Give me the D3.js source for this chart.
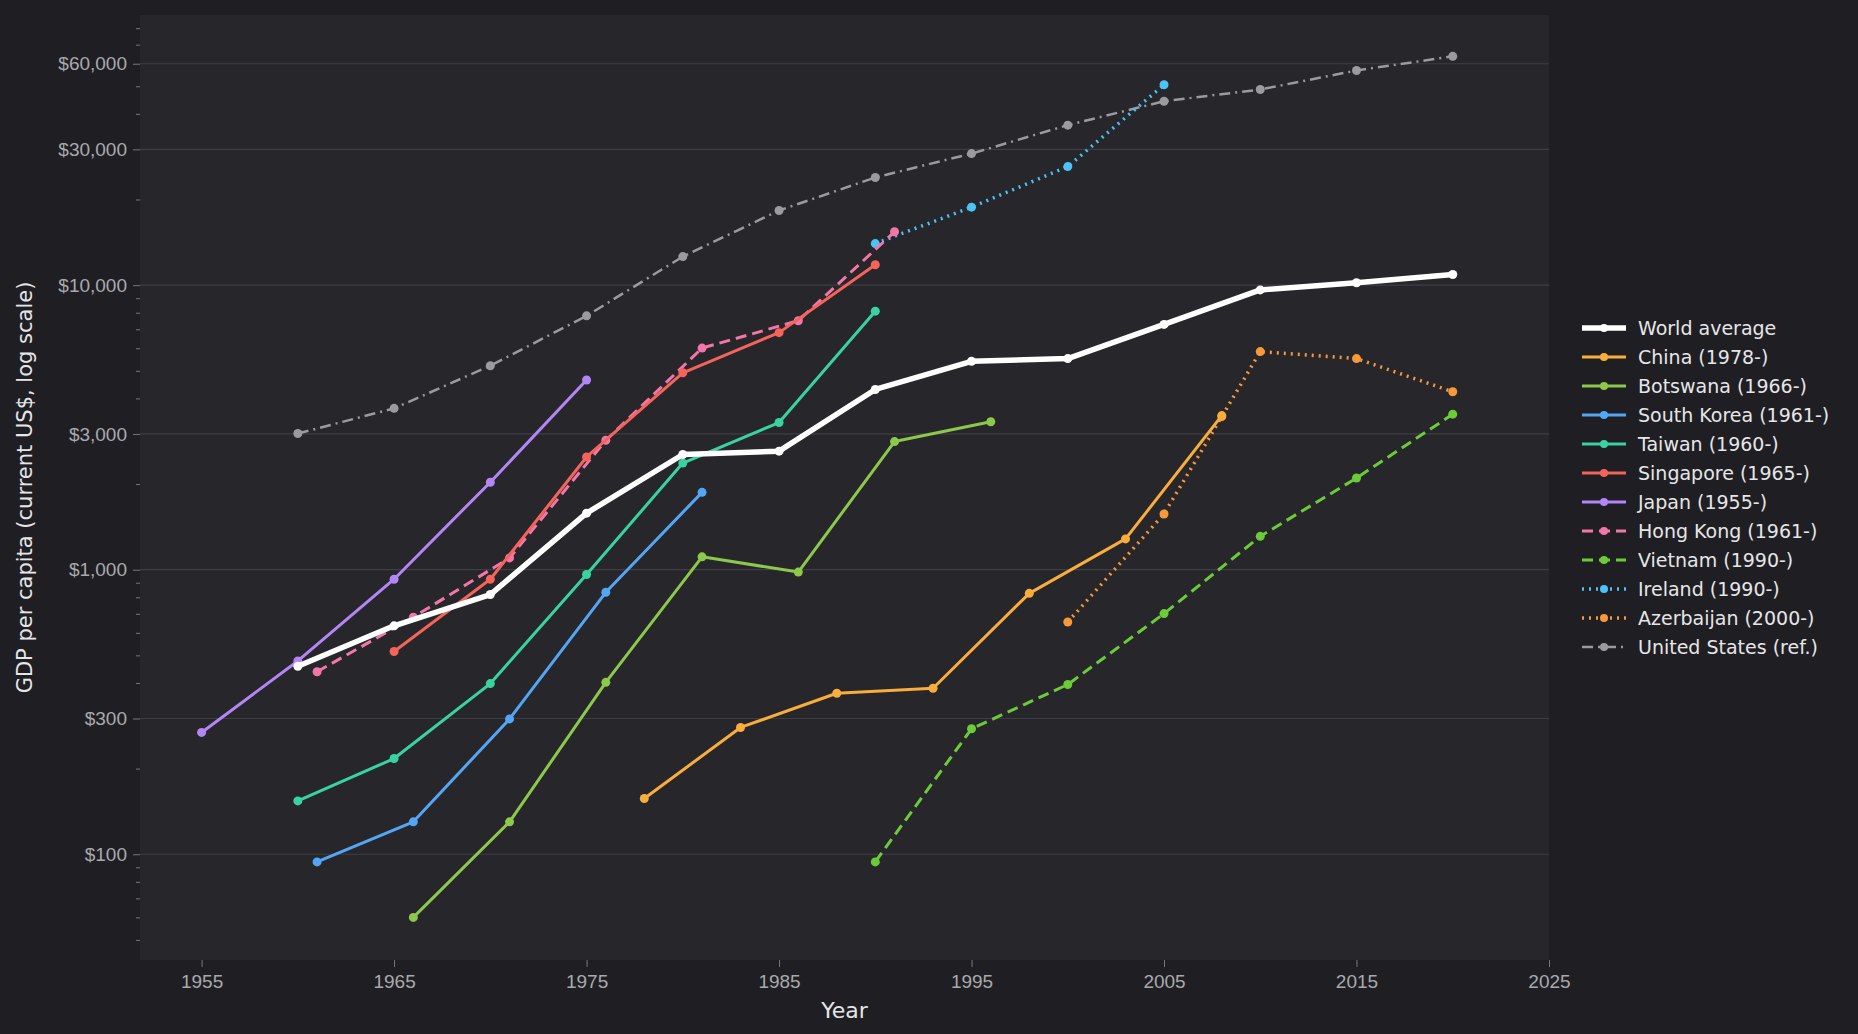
<!DOCTYPE html>
<html>
<head>
<meta charset="utf-8">
<script src="https://cdn.jsdelivr.net/npm/d3@7"></script>
<style>
  body { margin: 0; background: #1f1f23; }
  svg { display: block; font-family: "DejaVu Sans", sans-serif; }
  .grid line { stroke: #3e3e44; stroke-width: 1.2; }
  .axis text { fill: #a9a9ad; font-size: 19px; }
  .axis path, .axis line { stroke: #77777c; }
</style>
</head>
<body>
<svg id="chart"></svg>
<script>
// series values
var world      = [[1960,458],[1965,635],[1970,818],[1975,1580],[1980,2540],[1985,2610],[1990,4300],[1995,5400],[2000,5520],[2005,7280],[2010,9620],[2015,10200],[2020,10900]];
var china      = [[1978,157],[1983,279],[1988,368],[1993,383],[1998,826],[2003,1283],[2008,3480]];
var botswana   = [[1966,60],[1971,130],[1976,402],[1981,1110],[1986,981],[1991,2820],[1996,3310]];
var southKorea = [[1961,94],[1966,130],[1971,299],[1976,833],[1981,1870]];
var taiwan     = [[1960,154],[1965,217],[1970,398],[1975,962],[1980,2370],[1985,3290],[1990,8100]];
var singapore  = [[1965,516],[1970,926],[1975,2490],[1980,4920],[1985,6810],[1990,11800]];
var japan      = [[1955,268],[1960,478],[1965,926],[1970,2030],[1975,4640]];
var hongKong   = [[1961,438],[1966,681],[1971,1100],[1976,2850],[1981,6010],[1986,7500],[1991,15400]];
var vietnam    = [[1990,94],[1995,276],[2000,395],[2005,701],[2010,1310],[2015,2100],[2020,3520]];
var ireland    = [[1990,14000],[1995,18800],[2000,26100],[2005,50600]];
var azerbaijan = [[2000,655],[2005,1570],[2008,3450],[2010,5840],[2015,5520],[2020,4220]];
var usRef      = [[1960,3010],[1965,3690],[1970,5210],[1975,7800],[1980,12600],[1985,18300],[1990,23900],[1995,29000],[2000,36500],[2005,44300],[2010,48700],[2015,56800],[2020,63700]];

var yearTicks = [1955, 1965, 1975, 1985, 1995, 2005, 2015, 2025];
var gdpTicks = [100, 300, 1000, 3000, 10000, 30000, 60000];

var series = [
    {name: "World average", data: world, color: "#ffffff", width: 5.5, dash: null},
    {name: "China (1978-)", data: china, color: "#f8ad3d", width: 3, dash: null},
    {name: "Botswana (1966-)", data: botswana, color: "#8cc84b", width: 3, dash: null},
    {name: "South Korea (1961-)", data: southKorea, color: "#54a6f4", width: 3, dash: null},
    {name: "Taiwan (1960-)", data: taiwan, color: "#3ad3a0", width: 3, dash: null},
    {name: "Singapore (1965-)", data: singapore, color: "#f4645a", width: 3, dash: null},
    {name: "Japan (1955-)", data: japan, color: "#b486f5", width: 3, dash: null},
    {name: "Hong Kong (1961-)", data: hongKong, color: "#f277a8", width: 3, dash: "11,6"},
    {name: "Vietnam (1990-)", data: vietnam, color: "#6ccb38", width: 3, dash: "11,6"},
    {name: "Ireland (1990-)", data: ireland, color: "#4cc2f6", width: 3.5, dash: "2,5"},
    {name: "Azerbaijan (2000-)", data: azerbaijan, color: "#f5993a", width: 3.5, dash: "2,5"},
    {name: "United States (ref.)", data: usRef, color: "#9b9b9e", width: 2.5, dash: "11,5,2,5"}
];

var W = 1858, H = 1034;
var margin = {top: 15, right: 309, bottom: 74, left: 140};
var width = W - margin.left - margin.right,
    height = H - margin.top - margin.bottom;

var svg = d3.select("#chart").attr("width", W).attr("height", H);

svg.append("rect")
    .attr("x", margin.left).attr("y", margin.top)
    .attr("width", width).attr("height", height)
    .attr("fill", "#26262b");

var g = svg.append("g")
    .attr("transform", "translate(" + margin.left + "," + margin.top + ")");

var x = d3.scaleLinear().domain([1951.8, 2025]).range([0, width]);
var y = d3.scaleLog().domain([42.5, 89000]).range([height, 0]);

g.append("g")
    .attr("class", "grid")
    .selectAll("line")
    .data(gdpTicks)
    .join("line")
    .attr("x1", 0).attr("x2", width)
    .attr("y1", function(d) { return y(d); })
    .attr("y2", function(d) { return y(d); });

// minor ticks on the y axis
var minor = [];
[10, 100, 1000, 10000].forEach(function(p) {
    for (var k = 1; k < 10; k++) {
        var v = p * k;
        if (v > 42.5 && v < 89000 && gdpTicks.indexOf(v) < 0) minor.push(v);
    }
});
g.append("g")
    .attr("class", "axis")
    .call(d3.axisLeft(y).tickValues(minor).tickSize(4).tickFormat(""))
    .call(function(s) { s.select(".domain").remove(); });

g.append("g")
    .attr("class", "axis")
    .call(d3.axisLeft(y).tickValues(gdpTicks).tickSize(7).tickPadding(6)
        .tickFormat(function(d) { return "$" + d3.format(",")(d); }))
    .call(function(s) { s.select(".domain").remove(); });

g.append("g")
    .attr("class", "axis")
    .attr("transform", "translate(0," + height + ")")
    .call(d3.axisBottom(x).tickValues(yearTicks).tickSize(7).tickPadding(8).tickFormat(d3.format("d")))
    .call(function(s) { s.select(".domain").remove(); });

var line = d3.line()
    .x(function(d) { return x(d[0]); })
    .y(function(d) { return y(d[1]); });

series.slice().reverse().forEach(function(s) {
    g.append("path")
        .datum(s.data)
        .attr("fill", "none")
        .attr("stroke", s.color)
        .attr("stroke-width", s.width)
        .attr("stroke-dasharray", s.dash)
        .attr("stroke-linejoin", "round")
        .attr("d", line);
    g.selectAll(null)
        .data(s.data)
        .join("circle")
        .attr("cx", function(d) { return x(d[0]); })
        .attr("cy", function(d) { return y(d[1]); })
        .attr("r", 4.5)
        .attr("fill", s.color);
});

svg.append("text")
    .attr("x", margin.left + width / 2)
    .attr("y", H - 16)
    .attr("text-anchor", "middle")
    .attr("fill", "#e6e6e8")
    .attr("font-size", 22)
    .text("Year");

svg.append("text")
    .attr("transform", "translate(32," + (margin.top + height / 2) + ") rotate(-90)")
    .attr("text-anchor", "middle")
    .attr("fill", "#e6e6e8")
    .attr("font-size", 21)
    .text("GDP per capita (current US$, log scale)");

var legend = svg.append("g").attr("transform", "translate(1582,328)");
series.forEach(function(s, i) {
    var row = legend.append("g").attr("transform", "translate(0," + (i * 29) + ")");
    row.append("line")
        .attr("x1", 0).attr("x2", 44)
        .attr("stroke", s.color)
        .attr("stroke-width", s.width)
        .attr("stroke-dasharray", s.dash);
    row.append("circle").attr("cx", 22).attr("r", 4).attr("fill", s.color);
    row.append("text")
        .attr("x", 56).attr("dy", "0.35em")
        .attr("fill", "#e6e6e8")
        .attr("font-size", 19)
        .text(s.name);
});
</script>
</body>
</html>
